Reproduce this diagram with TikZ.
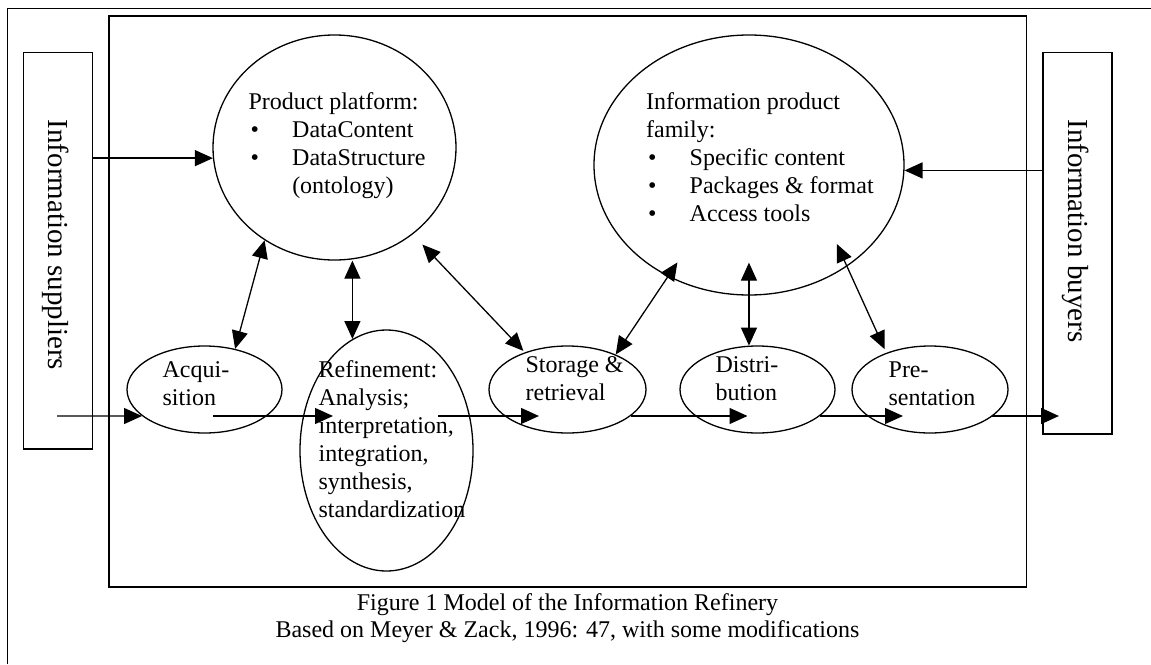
\documentclass[tikz,border=0pt]{standalone}
\usepackage{fontspec}
\setmainfont{Liberation Serif}
\usetikzlibrary{shapes.geometric,arrows.meta,calc}
\newcommand\mylines[1]{\begin{tabular}[t]{@{}l@{}}#1\end{tabular}}
\newcommand\bitem[1]{\makebox[21.8pt][l]{\hspace{1pt}\textbullet}#1}
\begin{document}
\begin{tikzpicture}[x=0.5pt,y=-0.5pt,line width=0.65pt,
  every node/.style={font=\fontsize{12}{14}\selectfont},
  oval/.style={draw,ellipse,inner sep=0pt},
  txt/.style={inner sep=0pt,anchor=base west},
  arr/.style={-{Triangle[length=9pt,width=8pt]}},
  dbl/.style={{Triangle[length=9pt,width=8pt]}-{Triangle[length=9pt,width=8pt]}},
  sidebox/.style={draw,rectangle,inner sep=0pt},
  side/.style={font=\fontsize{14.5}{16}\selectfont,rotate=-90,anchor=base,inner sep=0pt}]
\useasboundingbox (0,0) rectangle (1151,664);
% outer frame
\draw[line width=0.75pt] (7.5,664) -- (7.5,8.5) -- (1151,8.5);
% inner frame
\node[sidebox,minimum width=458.75pt,minimum height=285.5pt] (frame) at (567.75,301.5) {};
% side boxes
\node[sidebox,minimum width=34.75pt,minimum height=198.25pt] (sup) at (58.05,250.75) {};
\node[sidebox,minimum width=34.5pt,minimum height=190.65pt] (buy) at (1077.5,243.35) {};
\node[side] (supt) at (48,245) {Information suppliers};
\node[side] (buyt) at (1068,231) {Information buyers};
% ellipses
\node[oval,minimum width=121.5pt,minimum height=112.5pt] (pp) at (334.5,147.5) {};
\node[oval,minimum width=155pt,minimum height=130pt] (ipf) at (749,165) {};
\node[oval,minimum width=77.5pt,minimum height=43.5pt] (acq) at (204.5,389.5) {};
\node[oval,minimum width=86.5pt,minimum height=120.5pt] (ref) at (386.5,450.5) {};
\node[oval,minimum width=78.5pt,minimum height=43.5pt] (st) at (567.5,389.5) {};
\node[oval,minimum width=77.5pt,minimum height=43.5pt] (di) at (757.5,389.5) {};
\node[oval,minimum width=78pt,minimum height=43.5pt] (pr) at (930,389.5) {};
% texts
\node[txt] (ppt) at (248,109) {\mylines{Product platform:\\ \bitem{DataContent}\\ \bitem{DataStructure}\\ \hspace*{21.8pt}(ontology)}};
\node[txt] (ipft) at (645.5,109) {\mylines{Information product\\ family:\\ \bitem{Specific content}\\ \bitem{Packages \& format}\\ \bitem{Access tools}}};
\node[txt] (acqt) at (162,377) {\mylines{Acqui-\\ sition}};
\node[txt] (reft) at (318,377) {\mylines{Refinement:\\ Analysis;\\ interpretation,\\ integration,\\ synthesis,\\ standardization}};
\node[txt] (stt) at (525,372) {\mylines{Storage \&\\ retrieval}};
\node[txt] (dit) at (715,372) {\mylines{Distri-\\ bution}};
\node[txt] (prt) at (888,377) {\mylines{Pre-\\ sentation}};
% caption
\node[anchor=base,inner sep=0pt] (cap1) at (567.5,610) {Figure 1 Model of the Information Refinery};
\node[anchor=base,inner sep=0pt] (cap2) at (567.5,637) {Based on Meyer \& Zack, 1996: 47, with some modifications};
% inputs from the side boxes
\draw[arr] (sup.east |- pp.185) -- (pp.185);
\draw[arr] (buy.west |- ipf.-2.6) -- (ipf.-2.6);
% two-headed links
\draw[dbl] (acq.53.7) -- (pp.233.7);
\draw[dbl] (ref.107) -- (ref.107 |- pp.south);
\draw[dbl,shorten <=7pt,shorten >=1pt] (pp.312.7) -- (st.139);
\draw[dbl,shorten >=-8.5pt] (st.36.5) -- (ipf.234);
\draw[dbl,shorten >=-16.5pt] (di.101.1) -- (di.101.1 |- ipf.south);
\draw[dbl,shorten <=2pt,shorten >=-12.4pt] (pr.140.3) -- (ipf.314.3);
% flow line
\coordinate (f0) at (57,416);
\coordinate (f1) at (213,416);
\coordinate (f2) at (333,416);
\coordinate (f3) at (438,416);
\coordinate (f4) at (539,416);
\coordinate (f5) at (631,416);
\coordinate (f6) at (747.5,416);
\coordinate (f7) at (820,416);
\coordinate (f8) at (903,416);
\coordinate (f9) at (991.5,416);
\coordinate (f10) at (1059,416);
\draw[arr] (f0) -- (acq.203.3);
\draw[arr] (f1) -- (f2);
\draw[arr] (f3) -- (f4);
\draw[arr] (f5) -- (f6);
\draw[arr] (f7) -- (f8);
\draw[arr] (f9) -- (f10);
\end{tikzpicture}
\end{document}
